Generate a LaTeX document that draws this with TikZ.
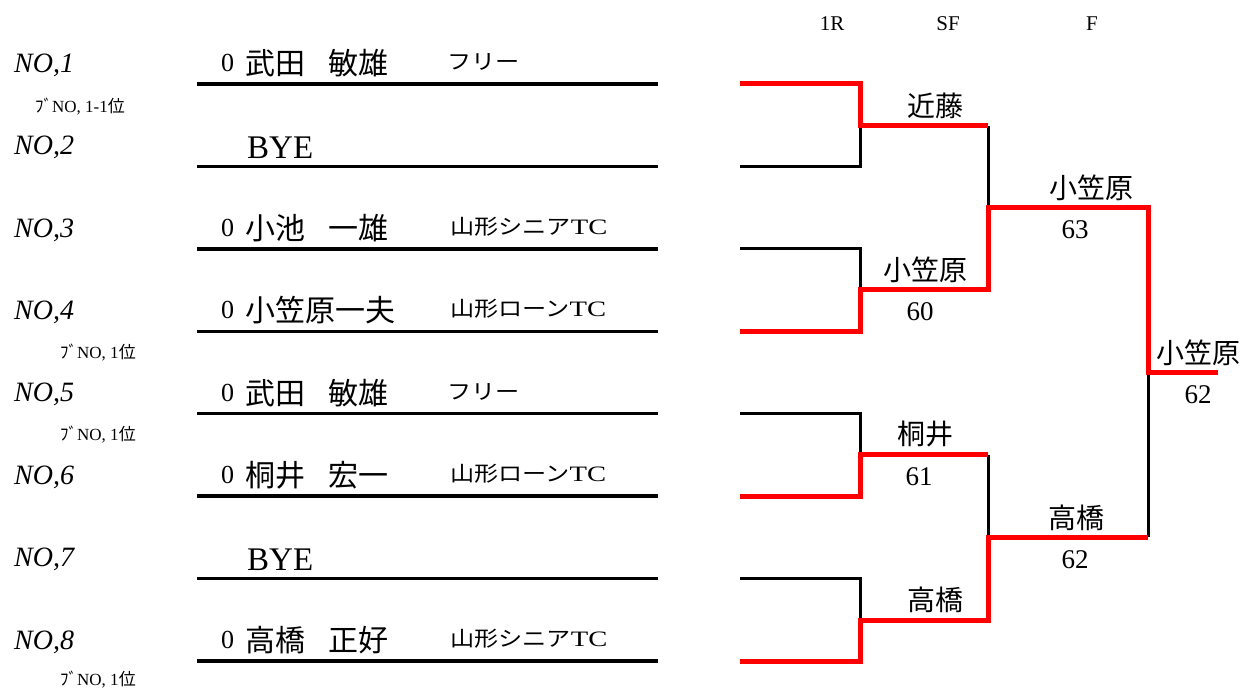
\documentclass[tikz,border=0pt]{standalone}
\usepackage{fontspec}
\setmainfont{Liberation Serif}
\newfontfamily\jp{Noto Sans CJK JP}
\newfontfamily\jpw[FakeStretch=1.15]{Noto Sans CJK JP}
\newfontfamily\serw[FakeStretch=1.3]{Liberation Serif}
\newcommand\fsz[1]{\fontsize{#1}{#1}\selectfont}
\newcommand\clubA[1]{{\jpw\fsz{21}#1}}
\newcommand\clubB[2]{{\jpw\fsz{21}#1}{\serw\fsz{22}#2}}
\tikzset{
  nolab/.style={anchor=west,inner sep=0pt,font=\fsz{28}\itshape},
  zero/.style={anchor=west,inner sep=0pt,font=\fsz{26}},
  pname/.style={anchor=west,inner sep=0pt,font=\jp\fsz{30}},
  bye/.style={anchor=west,inner sep=0pt,font=\fsz{33}},
  club/.style={anchor=west,inner sep=0pt},
  small/.style={anchor=west,inner sep=0pt,font=\fsz{17}},
  hdr/.style={inner sep=0pt,font=\fsz{21}},
  bname/.style={inner sep=0pt,font=\jp\fsz{28}},
  score/.style={inner sep=0pt,font=\fsz{27}},
  rowline/.style={line width=3.3pt,black},
  blk/.style={line width=3pt,black},
  win/.style={line width=5pt,red,line join=miter},
}
\begin{document}
\begin{tikzpicture}[x=1pt,y=-1pt]
\useasboundingbox (0,0) rectangle (1243,692);
% headers
\node[hdr] (h1) at (832,24) {1R};
\node[hdr] (h2) at (948,24) {SF};
\node[hdr] (h3) at (1092,24) {F};
% row coordinates
\foreach \i/\y in {1/84,2/166.4,3/248.9,4/331.3,5/413.7,6/496.1,7/578.6,8/661}{
  \coordinate (La\i) at (197,\y);
  \coordinate (Lb\i) at (658,\y);
  \coordinate (R\i) at (740,\y);
  \coordinate (Q\i) at (860,\y);
  \node[nolab] (no\i) at (14,\y-19) {NO,\i};
}
\foreach \i in {1,...,8}{ \draw[rowline] (La\i) -- (Lb\i); }
% small labels
\node[small] (s1) at (35,107) {{\jp ﾌﾞ}NO, 1-1{\jp 位}};
\node[small] (s2) at (60,353) {{\jp ﾌﾞ}NO, 1{\jp 位}};
\node[small] (s3) at (60,435) {{\jp ﾌﾞ}NO, 1{\jp 位}};
\node[small] (s4) at (60,680) {{\jp ﾌﾞ}NO, 1{\jp 位}};
% players
\node[zero] (z1) at (221,63) {0};
\node[pname] (p1) at (245,63) {武田\hspace{23pt}敏雄};
\node[club] (c1) at (447,62) {\clubA{フリー}};
\node[bye] (p2) at (247,148) {BYE};
\node[zero] (z3) at (221,228) {0};
\node[pname] (p3) at (245,228) {小池\hspace{23pt}一雄};
\node[club] (c3) at (450,227) {\clubB{山形シニア}{TC}};
\node[zero] (z4) at (221,310) {0};
\node[pname] (p4) at (245,310) {小笠原一夫};
\node[club] (c4) at (450,309) {\clubB{山形ローン}{TC}};
\node[zero] (z5) at (221,393) {0};
\node[pname] (p5) at (245,393) {武田\hspace{23pt}敏雄};
\node[club] (c5) at (447,392) {\clubA{フリー}};
\node[zero] (z6) at (221,475) {0};
\node[pname] (p6) at (245,475) {桐井\hspace{23pt}宏一};
\node[club] (c6) at (450,474) {\clubB{山形ローン}{TC}};
\node[bye] (p7) at (247,560) {BYE};
\node[zero] (z8) at (221,640) {0};
\node[pname] (p8) at (245,640) {高橋\hspace{23pt}正好};
\node[club] (c8) at (450,639) {\clubB{山形シニア}{TC}};
% bracket junctions
\coordinate (m1) at (860,126);
\coordinate (m2) at (860,290);
\coordinate (m3) at (860,455);
\coordinate (m4) at (860,620);
\coordinate (s1a) at (988,126);
\coordinate (s1b) at (988,290);
\coordinate (s1m) at (988,208);
\coordinate (s2a) at (988,455);
\coordinate (s2b) at (988,620);
\coordinate (s2m) at (988,537);
\coordinate (f1) at (1148,208);
\coordinate (f2) at (1148,537);
\coordinate (fm) at (1148,373);
\coordinate (ch) at (1218,373);
% black (losing) paths
\draw[blk] (R2) -- (Q2) -- (m1);
\draw[blk] (R3) -- (Q3) -- (m2);
\draw[blk] (R5) -- (Q5) -- (m3);
\draw[blk] (R7) -- (Q7) -- (m4);
\draw[blk] (s1a) -- (s1m);
\draw[blk] (s2a) -- (s2m);
\draw[blk] (f2) -- (fm);
% red (winning) paths
\draw[win] (R1) -- (Q1) -- (m1) -- (s1a);
\draw[win] (R4) -- (Q4) -- (m2) -- (s1b) -- (s1m) -- (f1) -- (fm) -- (ch);
\draw[win] (R6) -- (Q6) -- (m3) -- (s2a);
\draw[win] (R8) -- (Q8) -- (m4) -- (s2b) -- (s2m) -- (f2);
% bracket labels
\node[bname] (w1) at (935,106) {近藤};
\node[bname] (w2) at (925,270) {小笠原};
\node[score] (r2) at (920,312) {60};
\node[bname] (w3) at (925,434) {桐井};
\node[score] (r3) at (919,477) {61};
\node[bname] (w4) at (935,600) {高橋};
\node[bname] (x1) at (1091,188) {小笠原};
\node[score] (y1) at (1075,230) {63};
\node[bname] (x2) at (1076,518) {高橋};
\node[score] (y2) at (1075,560) {62};
\node[bname] (cw) at (1198,353) {小笠原};
\node[score] (cs) at (1198,395) {62};
\end{tikzpicture}
\end{document}
